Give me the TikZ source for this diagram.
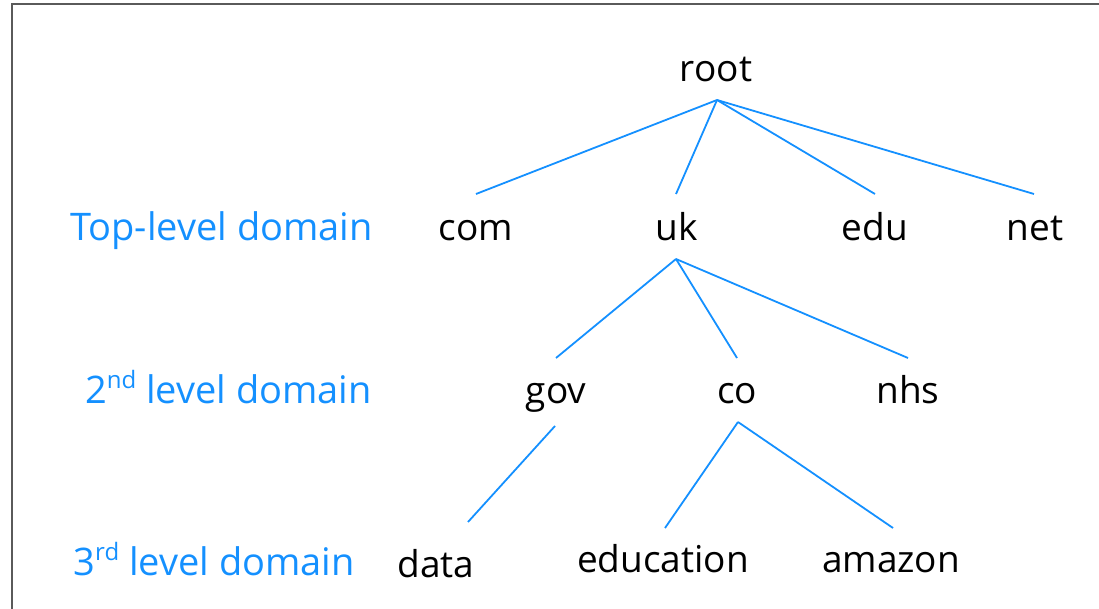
\documentclass[tikz,border=0pt]{standalone}
\usepackage{fontspec}
\setmainfont{Open Sans}
\usetikzlibrary{calc}
\definecolor{linkblue}{RGB}{20,144,255}
\definecolor{framegray}{RGB}{90,90,90}
\tikzset{
  dom/.style={anchor=base, inner sep=0pt, text=black,
    font=\fontsize{37}{44}\selectfont},
  levellabel/.style={anchor=base east, inner sep=0pt, text=linkblue,
    font=\fontsize{38}{45}\selectfont},
  link/.style={draw=linkblue, line width=1.8pt},
}
\newcommand{\ordsup}[1]{\raisebox{15pt}{\fontsize{24}{24}\selectfont #1}}
\begin{document}
\begin{tikzpicture}[x=1pt, y=-1pt]
  \useasboundingbox (0,0) rectangle (1099,609);
  % outer frame (open to the right and bottom)
  \draw[framegray, line width=2pt] (12,615) -- (12,4) -- (1105,4);

  % level captions
  \node[levellabel] (lblTop) at (373,241) {Top-level domain};
  \node[levellabel] (lblSecond) at (372,403) {2\ordsup{nd} level domain};
  \node[levellabel] (lblThird) at (355,575) {3\ordsup{rd} level domain};

  % domain names
  \node[dom] (root) at (716,82) {root};
  \node[dom] (com) at (476,241) {com};
  \node[dom] (uk) at (677,241) {uk};
  \node[dom] (edu) at (875,241) {edu};
  \node[dom] (net) at (1035,241) {net};
  \node[dom] (gov) at (556,403) {gov};
  \node[dom] (co) at (737,403) {co};
  \node[dom] (nhs) at (908,403) {nhs};
  \node[dom] (data) at (436,577) {data};
  \node[dom] (education) at (663,572) {education};
  \node[dom] (amazon) at (891,572) {amazon};

  % tree edges
  \foreach \child/\dx in {com/0, uk/-1, edu/0, net/-1}
    \draw[link] ($(root.base)+(1,18)$) -- ($(\child.base)+(\dx,-47)$);
  \foreach \child/\dx in {gov/0, co/0, nhs/0}
    \draw[link] ($(uk.base)+(-1,18)$) -- ($(\child.base)+(\dx,-45)$);
  \draw[link] ($(gov.base)+(-1,23)$) -- ($(data.base)+(32,-55)$);
  \foreach \child/\dx in {education/2, amazon/2}
    \draw[link] ($(co.base)+(1,19)$) -- ($(\child.base)+(\dx,-44)$);
\end{tikzpicture}
\end{document}
